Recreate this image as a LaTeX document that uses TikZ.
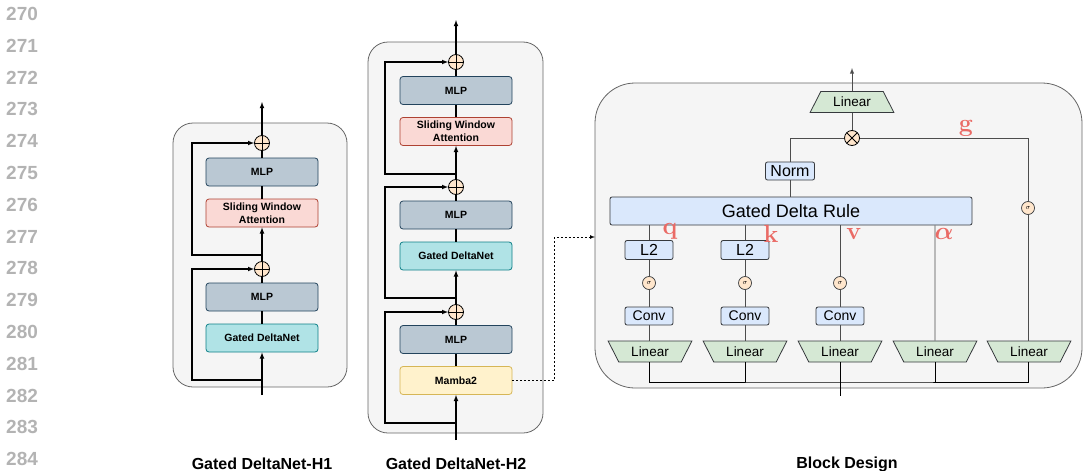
\documentclass[tikz,border=0pt]{standalone}
\usepackage{amsmath}
\usepackage{bm}
\usepackage[no-math]{fontspec}
\setmainfont{Liberation Sans}
\usepackage{tikz}
\usetikzlibrary{shapes.geometric}
\tikzset{>=latex}

\definecolor{panelfill}{HTML}{F5F5F5}
\definecolor{panelline}{HTML}{666666}
\definecolor{mlpfill}{HTML}{BAC8D3}
\definecolor{mlpline}{HTML}{23445D}
\definecolor{swafill}{HTML}{FAD9D5}
\definecolor{swaline}{HTML}{AE4132}
\definecolor{gdnfill}{HTML}{B0E3E6}
\definecolor{gdnline}{HTML}{0E8088}
\definecolor{mambafill}{HTML}{FFF2CC}
\definecolor{mambaline}{HTML}{D6B656}
\definecolor{opfill}{HTML}{FFE6CC}
\definecolor{unitfill}{HTML}{DAE8FC}
\definecolor{unitline}{HTML}{36393D}
\definecolor{projfill}{HTML}{D5E8D4}
\definecolor{gatered}{HTML}{EA6B66}
\definecolor{wiregray}{HTML}{4D4D4D}
\definecolor{linenogray}{HTML}{B3B3B3}

\tikzset{
  panel/.style={draw=panelline, fill=panelfill, line width=0.8pt, rounded corners=20pt, inner sep=0pt},
  layerbox/.style={draw, rounded corners=3pt, line width=0.8pt, minimum width=112pt, minimum height=28pt, inner sep=1pt, align=center, font=\fontsize{10.5}{13}\selectfont\bfseries},
  mlp/.style={layerbox, fill=mlpfill, draw=mlpline},
  swa/.style={layerbox, fill=swafill, draw=swaline},
  gdn/.style={layerbox, fill=gdnfill, draw=gdnline},
  mamba/.style={layerbox, fill=mambafill, draw=mambaline},
  addop/.style={circle, draw, fill=opfill, minimum size=15pt, inner sep=0pt, line width=0.8pt,
    path picture={\draw[line width=0.8pt] (path picture bounding box.north) -- (path picture bounding box.south)
      (path picture bounding box.west) -- (path picture bounding box.east);}},
  mulop/.style={circle, draw, fill=opfill, minimum size=15pt, inner sep=0pt, line width=0.8pt,
    path picture={\draw[line width=0.8pt] (path picture bounding box.north west) -- (path picture bounding box.south east)
      (path picture bounding box.south west) -- (path picture bounding box.north east);}},
  sig/.style={circle, draw=unitline, fill=opfill, minimum size=13pt, inner sep=0pt, line width=0.7pt, font=\fontsize{7}{7}\selectfont},
  unit/.style={draw=unitline, fill=unitfill, rounded corners=2pt, line width=0.8pt, inner sep=0pt, minimum width=48pt, minimum height=19pt, font=\fontsize{14}{14}\selectfont},
  proj/.style={trapezium, trapezium left angle=57, trapezium right angle=57, trapezium stretches=true, minimum width=84pt, minimum height=21pt, inner sep=0pt, draw=unitline, fill=projfill, line width=0.8pt, font=\fontsize{13.5}{14}\selectfont},
  projdown/.style={proj, shape border rotate=180},
  gate/.style={text=gatered, font=\fontsize{24}{24}\selectfont, inner sep=0pt},
  caption/.style={font=\fontsize{16}{18}\selectfont\bfseries},
  lineno/.style={text=linenogray, font=\fontsize{19}{20}\selectfont\bfseries, anchor=west, inner sep=0pt},
  flow/.style={line width=1.1pt},
  wire/.style={line width=0.9pt, draw=wiregray},
}

\begin{document}
\begin{tikzpicture}[x=1pt,y=-1pt]
            \useasboundingbox (0,0) rectangle (1084,471);
            % line numbers of the page
            \node[lineno] (ln270) at (6,14) {270};
            \node[lineno] (ln271) at (6,45.8) {271};
            \node[lineno] (ln272) at (6,77.6) {272};
            \node[lineno] (ln273) at (6,109.4) {273};
            \node[lineno] (ln274) at (6,141.2) {274};
            \node[lineno] (ln275) at (6,173) {275};
            \node[lineno] (ln276) at (6,204.8) {276};
            \node[lineno] (ln277) at (6,236.6) {277};
            \node[lineno] (ln278) at (6,268.4) {278};
            \node[lineno] (ln279) at (6,300.2) {279};
            \node[lineno] (ln280) at (6,332) {280};
            \node[lineno] (ln281) at (6,363.8) {281};
            \node[lineno] (ln282) at (6,395.6) {282};
            \node[lineno] (ln283) at (6,427.4) {283};
            \node[lineno] (ln284) at (6,459.2) {284};

            % Gated DeltaNet-H1
            \node[panel, minimum width=174pt, minimum height=264pt] (hapanel) at (260,255) {};
            \node[addop] (haptop) at (262,143) {};
            \node[mlp] (hamlp) at (262,172) {MLP};
            \node[swa] (haswa) at (262,213) {Sliding Window\\Attention};
            \node[addop] (hapmid) at (262,269) {};
            \node[mlp] (hamlpb) at (262,297) {MLP};
            \node[gdn] (hagdn) at (262,338) {Gated DeltaNet};
            \coordinate (hain) at (262,395);
            \coordinate (haout) at (262,102);
            \coordinate (haskipb) at (262,380);
            \coordinate (haskipa) at (262,255);
            \draw[flow,->] (hain) -- (hagdn);
            \draw[flow] (hagdn) -- (hamlpb);
            \draw[flow] (hamlpb) -- (hapmid);
            \draw[flow,->] (hapmid) -- (haswa);
            \draw[flow] (haswa) -- (hamlp);
            \draw[flow] (hamlp) -- (haptop);
            \draw[flow,->] (haptop) -- (haout);
            \draw[flow,->] (haskipb) -- ++(-70,0) |- (hapmid);
            \draw[flow,->] (haskipa) -- ++(-70,0) |- (haptop);
            \node[caption] (hacap) at (262,464) {Gated DeltaNet-H1};

            % Gated DeltaNet-H2
            \node[panel, minimum width=175pt, minimum height=391pt] (hbpanel) at (455.5,237.5) {};
            \node[addop] (hbptop) at (456,62) {};
            \node[mlp] (hbmlp) at (456,90.5) {MLP};
            \node[swa] (hbswa) at (456,131.5) {Sliding Window\\Attention};
            \node[addop] (hbpmid) at (456,187) {};
            \node[mlp] (hbmlpb) at (456,215) {MLP};
            \node[gdn] (hbgdn) at (456,256) {Gated DeltaNet};
            \node[addop] (hbplow) at (456,312) {};
            \node[mlp] (hbmlpc) at (456,339.5) {MLP};
            \node[mamba] (hbmamba) at (456,380.5) {Mamba2};
            \coordinate (hbin) at (456,440);
            \coordinate (hbout) at (456,20);
            \coordinate (hbskipc) at (456,423);
            \coordinate (hbskipb) at (456,298);
            \coordinate (hbskipa) at (456,174);
            \draw[flow,->] (hbin) -- (hbmamba);
            \draw[flow] (hbmamba) -- (hbmlpc);
            \draw[flow] (hbmlpc) -- (hbplow);
            \draw[flow,->] (hbplow) -- (hbgdn);
            \draw[flow] (hbgdn) -- (hbmlpb);
            \draw[flow] (hbmlpb) -- (hbpmid);
            \draw[flow,->] (hbpmid) -- (hbswa);
            \draw[flow] (hbswa) -- (hbmlp);
            \draw[flow] (hbmlp) -- (hbptop);
            \draw[flow,->] (hbptop) -- (hbout);
            \draw[flow,->] (hbskipc) -- ++(-71,0) |- (hbplow);
            \draw[flow,->] (hbskipb) -- ++(-71,0) |- (hbpmid);
            \draw[flow,->] (hbskipa) -- ++(-71,0) |- (hbptop);
            \node[caption] (hbcap) at (456,464) {Gated DeltaNet-H2};

            % Block Design
            \node[panel, rounded corners=40pt, minimum width=487pt, minimum height=305pt] (bdpanel) at (838.5,235.5) {};
            \coordinate (bdlink) at (595,237);
            \draw[->,dash pattern=on 2pt off 2pt,line width=0.7pt] (hbmamba.east) -- ++(42,0) |- (bdlink);
            \node[proj] (bdlinout) at (852,102) {Linear};
            \coordinate (bdout) at (852,68);
            \node[mulop] (bdmul) at (852,138) {};
            \node[unit, minimum width=49pt, minimum height=18pt, font=\fontsize{16}{16}\selectfont] (bdnorm) at (790,171) {Norm};
            \node[unit, minimum width=362pt, minimum height=28pt, font=\fontsize{18}{18}\selectfont] (bdrule) at (791,211) {Gated Delta Rule};
            \node[unit, font=\fontsize{16}{16}\selectfont] (bdlq) at (649,250) {L2};
            \node[unit, font=\fontsize{16}{16}\selectfont] (bdlk) at (745,250) {L2};
            \node[sig] (bdsq) at (649,283) {$\sigma$};
            \node[sig] (bdsk) at (745,283) {$\sigma$};
            \node[sig] (bdsv) at (840,283) {$\sigma$};
            \node[sig] (bdsg) at (1028,208) {$\sigma$};
            \node[unit, minimum height=18pt] (bdcq) at (649,316) {Conv};
            \node[unit, minimum height=18pt] (bdck) at (745,316) {Conv};
            \node[unit, minimum height=18pt] (bdcv) at (840,316) {Conv};
            \node[projdown] (bdpq) at (650,351.5) {Linear};
            \node[projdown] (bdpk) at (745,351.5) {Linear};
            \node[projdown] (bdpv) at (840,351.5) {Linear};
            \node[projdown] (bdpa) at (935,351.5) {Linear};
            \node[projdown] (bdpg) at (1029,351.5) {Linear};
            \coordinate (bdbus) at (840,382);
            \coordinate (bdin) at (840,396);
            \draw[wire,->] (bdlinout) -- (bdout);
            \draw[wire] (bdmul) -- (bdlinout);
            \draw[wire] (bdnorm) |- (bdmul);
            \draw[wire] (bdsg) |- (bdmul);
            \draw[wire] (bdnorm) -- (bdnorm |- bdrule.north);
            \draw[wire] (bdlq |- bdrule.south) -- (bdlq);
            \draw[wire] (bdlk |- bdrule.south) -- (bdlk);
            \draw[wire] (bdsv |- bdrule.south) -- (bdsv);
            \draw[wire] (bdpa |- bdrule.south) -- (bdpa);
            \draw[wire] (bdlq) -- (bdsq);
            \draw[wire] (bdlk) -- (bdsk);
            \draw[wire] (bdsq) -- (bdcq);
            \draw[wire] (bdsk) -- (bdck);
            \draw[wire] (bdsv) -- (bdcv);
            \draw[wire] (bdcq) -- (bdcq |- bdpq.north);
            \draw[wire] (bdck) -- (bdck |- bdpk.north);
            \draw[wire] (bdcv) -- (bdcv |- bdpv.north);
            \draw[wire] (bdsg) -- (bdsg |- bdpg.north);
            \draw[wire,draw=black] (bdcq |- bdpq.south) |- (bdbus) -| (bdsg |- bdpg.south);
            \draw[wire,draw=black] (bdck |- bdpk.south) -- (bdck |- bdbus);
            \draw[wire,draw=black] (bdpa |- bdpa.south) -- (bdpa |- bdbus);
            \draw[wire,draw=black] (bdcv |- bdpv.south) -- (bdin);
            \node[gate] (bdq) at (670,231) {$\mathbf{q}$};
            \node[gate] (bdk) at (771,234) {$\mathbf{k}$};
            \node[gate] (bdv) at (854,234) {$\mathbf{v}$};
            \node[gate] (bda) at (944,234) {$\bm{\alpha}$};
            \node[gate] (bdg) at (966,128) {$\mathbf{g}$};
            \node[caption] (bdcap) at (847,464) {Block Design};
\end{tikzpicture}
\end{document}
